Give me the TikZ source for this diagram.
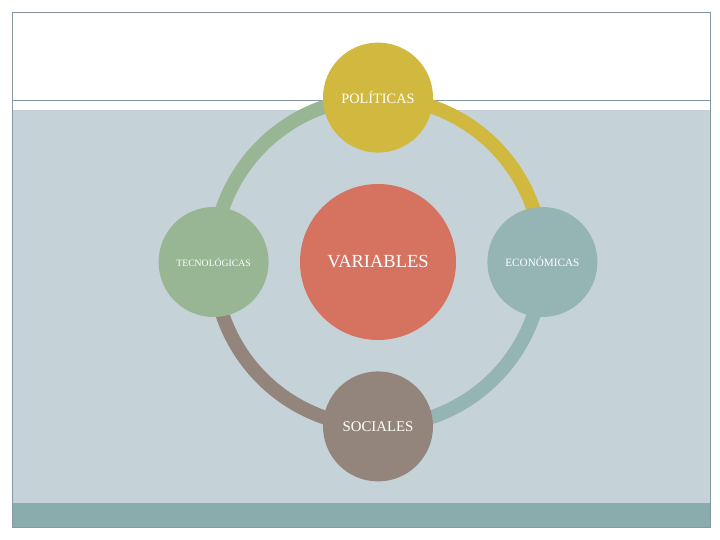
\documentclass[tikz,border=0pt]{standalone}
\usepackage{fontspec}
\setmainfont{Liberation Serif}
\usepackage{xcolor}
\usepackage{tikz}
\usetikzlibrary{positioning}

\definecolor{polcol}{HTML}{D0B93E}
\definecolor{varcol}{HTML}{D67360}
\definecolor{teccol}{HTML}{98B594}
\definecolor{ecocol}{HTML}{95B4B4}
\definecolor{soccol}{HTML}{93857C}
\definecolor{slidebg}{HTML}{C5D2D8}
\definecolor{slidebar}{HTML}{8AACAC}
\definecolor{slideline}{HTML}{8497A2}

\pgfdeclarelayer{slide}
\pgfdeclarelayer{ring}
\pgfsetlayers{slide,ring,main}

\begin{document}
\begin{tikzpicture}[
    x=1pt, y=1pt,
    node distance=31pt,
    hub/.style={
        circle,
        fill=varcol,
        minimum size=156pt,
        inner sep=0pt,
        text=white,
        font=\fontsize{18.5}{20}\selectfont
    },
    sat/.style={
        circle,
        minimum size=110pt,
        inner sep=0pt,
        text=white
    },
    ringarc/.style={line width=14pt}
]
\useasboundingbox (0,0) rectangle (720,540);

% Slide background
\begin{pgfonlayer}{slide}
\fill[slidebg] (12,37) rectangle (710,430);
\fill[slidebar] (12,13) rectangle (710,37);
\draw[slideline, line width=0.8pt] (12,440) -- (710,440);
\draw[slideline, line width=0.8pt] (12,13) rectangle (710,528);
\end{pgfonlayer}

% Centre and satellites
\node (var) [hub] at (378,278) {VARIABLES};

\node (pol) [sat, fill=polcol, above=of var,
    font=\fontsize{14.3}{16}\selectfont] {POLÍTICAS};

\node (eco) [sat, fill=ecocol, right=of var,
    font=\fontsize{11.2}{13}\selectfont] {ECONÓMICAS};

\node (soc) [sat, fill=soccol, below=of var,
    font=\fontsize{14.8}{16}\selectfont] {SOCIALES};

\node (tec) [sat, fill=teccol, left=of var,
    font=\fontsize{9.7}{11}\selectfont] {TECNOLÓGICAS};

% Cycle arcs
\begin{pgfonlayer}{ring}
\draw[ringarc, polcol] (pol.center) arc[start angle=90, end angle=0, radius=164pt];
\draw[ringarc, ecocol] (eco.center) arc[start angle=0, end angle=-90, radius=164pt];
\draw[ringarc, soccol] (soc.center) arc[start angle=270, end angle=180, radius=164pt];
\draw[ringarc, teccol] (tec.center) arc[start angle=180, end angle=90, radius=164pt];
\end{pgfonlayer}

\end{tikzpicture}
\end{document}
